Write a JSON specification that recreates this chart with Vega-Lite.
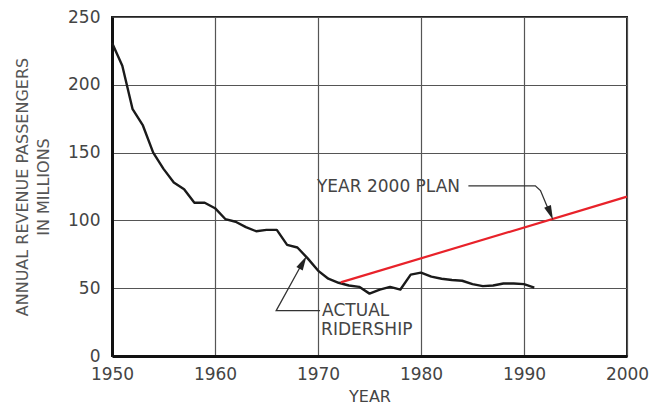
{
  "$schema": "https://vega.github.io/schema/vega-lite/v6.json",
  "width": 515,
  "height": 339,
  "autosize": {"type": "none"},
  "padding": {"left": 112, "top": 17, "right": 28, "bottom": 48},
  "background": "white",
  "config": {
    "view": {"stroke": "#222", "strokeWidth": 2},
    "font": "DejaVu Sans"
  },
  "datasets": {
    "actual": [
      {"year": 1950, "v": 231}, {"year": 1951, "v": 214}, {"year": 1952, "v": 182},
      {"year": 1953, "v": 170}, {"year": 1954, "v": 150}, {"year": 1955, "v": 138},
      {"year": 1956, "v": 128}, {"year": 1957, "v": 123}, {"year": 1958, "v": 113},
      {"year": 1959, "v": 113}, {"year": 1960, "v": 109}, {"year": 1961, "v": 101},
      {"year": 1962, "v": 99}, {"year": 1963, "v": 95}, {"year": 1964, "v": 92},
      {"year": 1965, "v": 93}, {"year": 1966, "v": 93}, {"year": 1967, "v": 82},
      {"year": 1968, "v": 80}, {"year": 1969, "v": 72}, {"year": 1970, "v": 63},
      {"year": 1971, "v": 57}, {"year": 1972, "v": 54}, {"year": 1973, "v": 52},
      {"year": 1974, "v": 51}, {"year": 1975, "v": 46}, {"year": 1976, "v": 49},
      {"year": 1977, "v": 51}, {"year": 1978, "v": 49}, {"year": 1979, "v": 60},
      {"year": 1980, "v": 61.5}, {"year": 1981, "v": 58.5}, {"year": 1982, "v": 57},
      {"year": 1983, "v": 56}, {"year": 1984, "v": 55.5}, {"year": 1985, "v": 53},
      {"year": 1986, "v": 51.5}, {"year": 1987, "v": 52}, {"year": 1988, "v": 53.5},
      {"year": 1989, "v": 53.5}, {"year": 1990, "v": 53}, {"year": 1991, "v": 50.5}
    ],
    "plan": [
      {"year": 1972.2, "v": 54.3}, {"year": 2000, "v": 117.5}
    ],
    "leaders": [
      {"id": "plan", "k": 1, "year": 1984.6, "v": 125.5},
      {"id": "plan", "k": 2, "year": 1991.1, "v": 125.5},
      {"id": "plan", "k": 3, "year": 1991.6, "v": 122},
      {"id": "plan", "k": 4, "year": 1992.4, "v": 107.5},
      {"id": "actual", "k": 1, "year": 1970.2, "v": 33.4},
      {"id": "actual", "k": 2, "year": 1965.94, "v": 33.4},
      {"id": "actual", "k": 3, "year": 1968.3, "v": 66}
    ],
    "heads": [
      {"year": 1992.55, "v": 105.4, "angle": 158},
      {"year": 1968.55, "v": 69.0, "angle": 29}
    ],
    "labels": [
      {"year": 1969.9, "v": 124.6, "text": "YEAR 2000 PLAN"},
      {"year": 1970.4, "v": 33.2, "text": "ACTUAL"},
      {"year": 1970.3, "v": 19.2, "text": "RIDERSHIP"}
    ]
  },
  "encoding": {
    "x": {
      "field": "year", "type": "quantitative",
      "scale": {"domain": [1950, 2000], "nice": false, "zero": false},
      "axis": {
        "values": [1950, 1960, 1970, 1980, 1990, 2000],
        "format": "d",
        "title": "YEAR",
        "titleFont": "DejaVu Sans", "titleFontSize": 16, "titleFontWeight": "normal",
        "titleColor": "#444", "titlePadding": 6,
        "labelFont": "DejaVu Sans", "labelFontSize": 17, "labelColor": "#444",
        "labelPadding": 10, "ticks": false,
        "domainColor": "#111", "domainWidth": 3,
        "grid": true, "gridColor": "#555", "gridWidth": 1.2,
        "labelFlush": false
      }
    },
    "y": {
      "field": "v", "type": "quantitative",
      "scale": {"domain": [0, 250], "nice": false},
      "axis": {
        "values": [0, 50, 100, 150, 200, 250],
        "title": ["ANNUAL REVENUE PASSENGERS", "IN MILLIONS"],
        "titleFont": "DejaVu Sans", "titleFontSize": 16, "titleFontWeight": "normal",
        "titleColor": "#555", "titleLineHeight": 21, "titlePadding": 16,
        "labelFont": "DejaVu Sans", "labelFontSize": 17, "labelColor": "#444",
        "labelPadding": 12, "ticks": false, "labelBaseline": "middle",
        "domainColor": "#111", "domainWidth": 3,
        "grid": true, "gridColor": "#555", "gridWidth": 1.2,
        "labelFlush": false
      }
    }
  },
  "layer": [
    {
      "data": {"name": "actual"},
      "mark": {"type": "line", "color": "#1a1a1a", "strokeWidth": 2.4, "strokeJoin": "round"}
    },
    {
      "data": {"name": "plan"},
      "mark": {"type": "line", "color": "#e8222a", "strokeWidth": 2.2}
    },
    {
      "data": {"name": "leaders"},
      "mark": {"type": "line", "color": "#333", "strokeWidth": 1.3},
      "encoding": {
        "detail": {"field": "id"},
        "order": {"field": "k", "type": "quantitative"}
      }
    },
    {
      "data": {"name": "heads"},
      "mark": {"type": "point", "shape": "M0,-1L0.5,1L-0.5,1Z", "filled": true, "color": "#222", "size": 210, "opacity": 1},
      "encoding": {
        "angle": {"field": "angle", "type": "quantitative", "scale": null}
      }
    },
    {
      "data": {"name": "labels"},
      "mark": {"type": "text", "align": "left", "baseline": "middle", "font": "DejaVu Sans", "fontSize": 17, "color": "#444"},
      "encoding": {
        "text": {"field": "text"}
      }
    }
  ]
}
